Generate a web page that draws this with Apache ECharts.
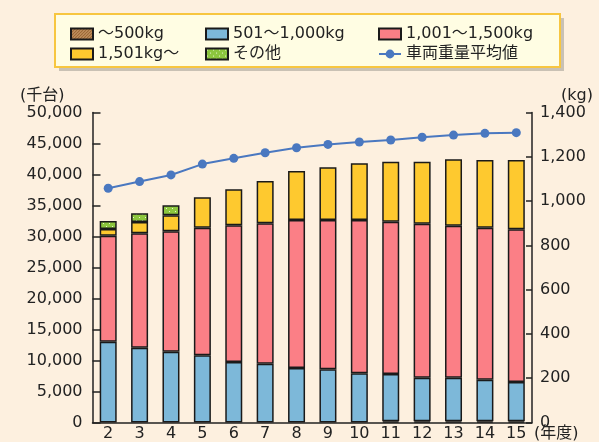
<!DOCTYPE html>
<html>
<head>
<meta charset="utf-8">
<script src="https://cdn.jsdelivr.net/npm/echarts@6/dist/echarts.min.js"></script>
<style>
  html, body { margin: 0; padding: 0; background: #fdf0df; }
  #chart { width: 599px; height: 442px; }
</style>
</head>
<body>
<div id="chart"></div>
<script>
// 年度
const years = ['2', '3', '4', '5', '6', '7', '8', '9', '10', '11', '12', '13', '14', '15'];

// 重量区分別保有台数（千台）
const upTo500 = [null, null, null, null, null, null, null, null, null, 200, 200, 200, 200, 200];
const w501to1000 = [13030, 12060, 11420, 10840, 9760, 9480, 8790, 8580, 7940, 7620, 7030, 7030, 6700, 6330];
const w1001to1500 = [17100, 18460, 19420, 20580, 22050, 22650, 23870, 24080, 24720, 24570, 24830, 24510, 24520, 24630];
const over1501 = [1080, 1820, 2580, 4900, 5800, 6820, 7900, 8500, 9150, 9670, 10000, 10710, 10920, 11180];
const others = [1290, 1400, 1610, null, null, null, null, null, null, null, null, null, null, null];

// 車両重量平均値（kg）
const avgWeight = [1058, 1088, 1118, 1167, 1193, 1218, 1241, 1256, 1267, 1276, 1288, 1298, 1306, 1309];

// 軸目盛
const leftTicks = { min: 0, max: 50000, interval: 5000 };
const rightTicks = { min: 0, max: 1400, interval: 200 };

const names = ['～500kg', '501～1,000kg', '1,001～1,500kg', '1,501kg～', 'その他', '車両重量平均値'];

const FONT = "'DejaVu Sans', 'Noto Sans CJK JP', sans-serif";
const INK = '#222222';

function pattern(bg, fg, kind) {
  const c = document.createElement('canvas');
  c.width = 6; c.height = 6;
  const g = c.getContext('2d');
  g.fillStyle = bg; g.fillRect(0, 0, 6, 6);
  g.fillStyle = fg;
  if (kind === 'hatch') {
    for (let i = 0; i < 6; i++) { g.fillRect(i, 5 - i, 1, 1); g.fillRect((i + 3) % 6, 5 - i, 1, 1); }
  } else {
    g.fillRect(1, 1, 1, 1); g.fillRect(4, 4, 1, 1);
  }
  return { image: c, repeat: 'repeat' };
}

const barBorder = { borderColor: '#1a1a1a', borderWidth: 1.5 };

function barSeries(name, data, color) {
  return {
    name, type: 'bar', stack: 'total', data, barWidth: 17,
    itemStyle: Object.assign({ color }, barBorder),
    emphasis: { disabled: true }
  };
}

const chart = echarts.init(document.getElementById('chart'), null, { renderer: 'canvas' });

const legendBase = {
  orient: 'vertical', itemWidth: 22, itemHeight: 11, itemGap: 4, itemTextGap: 6,
  textStyle: { fontFamily: FONT, fontSize: 16, color: INK, lineHeight: 16 },
  selectedMode: false, z: 10, padding: 0
};
const boxItem = n => ({ name: n, icon: 'rect' });

chart.setOption({
  backgroundColor: '#fdf0df',
  animation: false,
  textStyle: { fontFamily: FONT },
  graphic: [
    { type: 'rect', z: 1, shape: { x: 59, y: 18, width: 505, height: 53 }, style: { fill: '#c9c1b4' } },
    { type: 'rect', z: 2, shape: { x: 55, y: 14, width: 505, height: 53 }, style: { fill: '#fffde3', stroke: '#f7c640', lineWidth: 2 } },
    { type: 'text', z: 5, left: 20, top: 88, style: { text: '(千台)', font: "16px " + FONT, fill: INK } },
    { type: 'text', z: 5, left: 561, top: 88, style: { text: '(kg)', font: "16px " + FONT, fill: INK } },
    { type: 'text', z: 5, left: 534, top: 426, style: { text: '(年度)', font: "16px " + FONT, fill: INK } }
  ],
  legend: [
    Object.assign({}, legendBase, { left: 70, top: 26, data: [boxItem(names[0]), boxItem(names[3])] }),
    Object.assign({}, legendBase, { left: 205, top: 26, data: [boxItem(names[1]), boxItem(names[4])] }),
    Object.assign({}, legendBase, { left: 378, top: 26, data: [boxItem(names[2]), names[5]] })
  ],
  grid: { left: 92.5, right: 67, top: 112.5, bottom: 19.5 },
  xAxis: {
    type: 'category', data: years, boundaryGap: true,
    axisLine: { lineStyle: { color: INK, width: 1.5 } },
    axisTick: { inside: true, length: 7, interval: 0, lineStyle: { color: INK, width: 1.5 } },
    axisLabel: { color: INK, fontSize: 16, fontFamily: FONT, margin: 3, interval: 0 }
  },
  yAxis: [
    {
      type: 'value', position: 'left', min: leftTicks.min, max: leftTicks.max, interval: leftTicks.interval,
      axisLine: { show: true, lineStyle: { color: INK, width: 1.5 } },
      axisTick: { show: true, inside: true, length: 8, lineStyle: { color: INK, width: 1.5 } },
      splitLine: { show: false },
      axisLabel: { color: INK, fontSize: 16, fontFamily: FONT, margin: 10, formatter: v => v.toLocaleString('en-US') }
    },
    {
      type: 'value', position: 'right', min: rightTicks.min, max: rightTicks.max, interval: rightTicks.interval,
      axisLine: { show: true, lineStyle: { color: INK, width: 1.5 } },
      axisTick: { show: true, inside: true, length: 6, lineStyle: { color: INK, width: 1.5 } },
      splitLine: { show: false },
      axisLabel: { color: INK, fontSize: 16, fontFamily: FONT, margin: 8, formatter: v => v.toLocaleString('en-US') }
    }
  ],
  series: [
    barSeries(names[0], upTo500, pattern('#9c6836', '#d8aa78', 'hatch')),
    barSeries(names[1], w501to1000, '#7db8d9'),
    barSeries(names[2], w1001to1500, '#fb7f86'),
    barSeries(names[3], over1501, '#fec92f'),
    barSeries(names[4], others, pattern('#8cc63e', '#e8f7d0', 'dots')),
    {
      name: names[5], type: 'line', yAxisIndex: 1, data: avgWeight,
      symbol: 'circle', symbolSize: 9,
      lineStyle: { color: '#4a78c0', width: 2 },
      itemStyle: { color: '#4a78c0' },
      emphasis: { disabled: true }, z: 5
    }
  ]
});
</script>
</body>
</html>
